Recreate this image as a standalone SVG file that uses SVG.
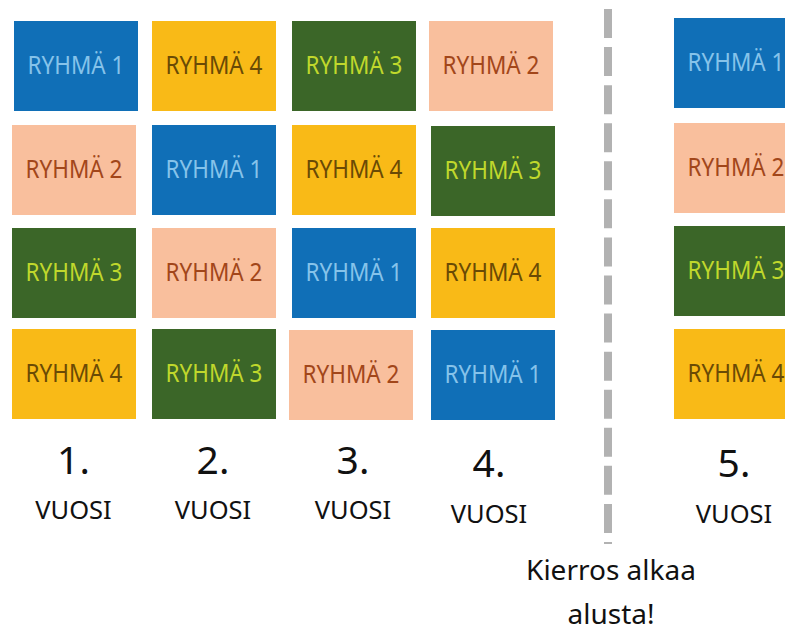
<svg xmlns="http://www.w3.org/2000/svg" width="785" height="627" viewBox="0 0 785 627">
<style>
  .box{stroke:none}
  .g1{fill:#106FB7}.t1{fill:#86C3EA}
  .g2{fill:#F9BF9D}.t2{fill:#A2461A}
  .g3{fill:#3B6628}.t3{fill:#C0D82C}
  .g4{fill:#F9BA17}.t4{fill:#6A4A05}
  .lbl{font-family:"Noto Sans","Open Sans",sans-serif;font-size:25px;text-anchor:middle}
  .num{font-family:"Noto Sans","Open Sans",sans-serif;font-size:39px;text-anchor:middle;fill:#111}
  .yr{font-family:"Noto Sans","Open Sans",sans-serif;font-size:25.5px;text-anchor:middle;fill:#111}
  .note{font-family:"Noto Sans","Open Sans",sans-serif;font-size:28px;text-anchor:middle;fill:#111}
</style>
<rect width="785" height="627" fill="#ffffff"/>
<g id="connectors">
  <line x1="608" y1="9" x2="608" y2="544" stroke="#B2B2B2" stroke-width="8" stroke-dasharray="29 9.07"/>
</g>
<!-- Row 1 -->
<g id="r1c1"><rect class="box g1" x="14" y="21" width="124" height="90"/><text class="lbl t1" x="76" y="73.5" textLength="97" lengthAdjust="spacingAndGlyphs">RYHMÄ 1</text></g>
<g id="r1c2"><rect class="box g4" x="152" y="21" width="124" height="90"/><text class="lbl t4" x="214" y="73.5" textLength="97" lengthAdjust="spacingAndGlyphs">RYHMÄ 4</text></g>
<g id="r1c3"><rect class="box g3" x="292" y="21" width="124" height="90"/><text class="lbl t3" x="354" y="73.5" textLength="97" lengthAdjust="spacingAndGlyphs">RYHMÄ 3</text></g>
<g id="r1c4"><rect class="box g2" x="429" y="21" width="124" height="90"/><text class="lbl t2" x="491" y="73.5" textLength="97" lengthAdjust="spacingAndGlyphs">RYHMÄ 2</text></g>
<g id="r1c5"><rect class="box g1" x="674" y="18" width="124" height="90"/><text class="lbl t1" x="736" y="70.5" textLength="97" lengthAdjust="spacingAndGlyphs">RYHMÄ 1</text></g>
<!-- Row 2 -->
<g id="r2c1"><rect class="box g2" x="12" y="125" width="124" height="90"/><text class="lbl t2" x="74" y="177.5" textLength="97" lengthAdjust="spacingAndGlyphs">RYHMÄ 2</text></g>
<g id="r2c2"><rect class="box g1" x="152" y="125" width="124" height="90"/><text class="lbl t1" x="214" y="177.5" textLength="97" lengthAdjust="spacingAndGlyphs">RYHMÄ 1</text></g>
<g id="r2c3"><rect class="box g4" x="292" y="125" width="124" height="90"/><text class="lbl t4" x="354" y="177.5" textLength="97" lengthAdjust="spacingAndGlyphs">RYHMÄ 4</text></g>
<g id="r2c4"><rect class="box g3" x="431" y="126" width="124" height="90"/><text class="lbl t3" x="493" y="178.5" textLength="97" lengthAdjust="spacingAndGlyphs">RYHMÄ 3</text></g>
<g id="r2c5"><rect class="box g2" x="674" y="123" width="124" height="90"/><text class="lbl t2" x="736" y="175.5" textLength="97" lengthAdjust="spacingAndGlyphs">RYHMÄ 2</text></g>
<!-- Row 3 -->
<g id="r3c1"><rect class="box g3" x="12" y="228" width="124" height="90"/><text class="lbl t3" x="74" y="280.5" textLength="97" lengthAdjust="spacingAndGlyphs">RYHMÄ 3</text></g>
<g id="r3c2"><rect class="box g2" x="152" y="228" width="124" height="90"/><text class="lbl t2" x="214" y="280.5" textLength="97" lengthAdjust="spacingAndGlyphs">RYHMÄ 2</text></g>
<g id="r3c3"><rect class="box g1" x="292" y="228" width="124" height="90"/><text class="lbl t1" x="354" y="280.5" textLength="97" lengthAdjust="spacingAndGlyphs">RYHMÄ 1</text></g>
<g id="r3c4"><rect class="box g4" x="431" y="228" width="124" height="90"/><text class="lbl t4" x="493" y="280.5" textLength="97" lengthAdjust="spacingAndGlyphs">RYHMÄ 4</text></g>
<g id="r3c5"><rect class="box g3" x="674" y="226" width="124" height="90"/><text class="lbl t3" x="736" y="278.5" textLength="97" lengthAdjust="spacingAndGlyphs">RYHMÄ 3</text></g>
<!-- Row 4 -->
<g id="r4c1"><rect class="box g4" x="12" y="329" width="124" height="90"/><text class="lbl t4" x="74" y="381.5" textLength="97" lengthAdjust="spacingAndGlyphs">RYHMÄ 4</text></g>
<g id="r4c2"><rect class="box g3" x="152" y="329" width="124" height="90"/><text class="lbl t3" x="214" y="381.5" textLength="97" lengthAdjust="spacingAndGlyphs">RYHMÄ 3</text></g>
<g id="r4c3"><rect class="box g2" x="289" y="330" width="124" height="90"/><text class="lbl t2" x="351" y="382.5" textLength="97" lengthAdjust="spacingAndGlyphs">RYHMÄ 2</text></g>
<g id="r4c4"><rect class="box g1" x="431" y="330" width="124" height="90"/><text class="lbl t1" x="493" y="382.5" textLength="97" lengthAdjust="spacingAndGlyphs">RYHMÄ 1</text></g>
<g id="r4c5"><rect class="box g4" x="674" y="329" width="124" height="90"/><text class="lbl t4" x="736" y="381.5" textLength="97" lengthAdjust="spacingAndGlyphs">RYHMÄ 4</text></g>
<!-- Year labels -->
<g id="year1"><text class="num" x="73.5" y="473.5">1.</text><text class="yr" x="73.5" y="518.5">VUOSI</text></g>
<g id="year2"><text class="num" x="213" y="473.5">2.</text><text class="yr" x="213" y="518.5">VUOSI</text></g>
<g id="year3"><text class="num" x="353" y="473.5">3.</text><text class="yr" x="353" y="518.5">VUOSI</text></g>
<g id="year4"><text class="num" x="489" y="476.5">4.</text><text class="yr" x="489" y="522.5">VUOSI</text></g>
<g id="year5"><text class="num" x="734" y="476.5">5.</text><text class="yr" x="734" y="522.5">VUOSI</text></g>
<g id="note"><text class="note" x="611" y="579.5">Kierros alkaa</text><text class="note" x="611" y="623.5">alusta!</text></g>
</svg>
